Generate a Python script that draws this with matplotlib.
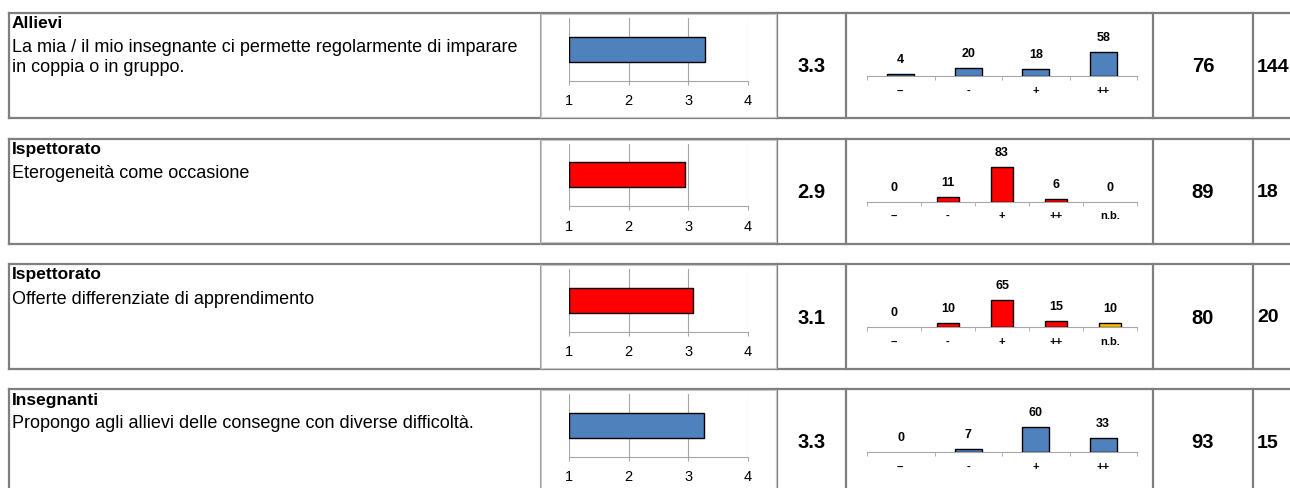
import matplotlib
matplotlib.use("Agg")
import matplotlib.pyplot as plt
from matplotlib.patches import Rectangle

plt.rcParams['font.family'] = ['Liberation Sans', 'DejaVu Sans']

# data
groups = ["Allievi", "Ispettorato", "Ispettorato", "Insegnanti"]
questions = [
    ["La mia / il mio insegnante ci permette regolarmente di imparare", "in coppia o in gruppo."],
    ["Eterogeneità come occasione"],
    ["Offerte differenziate di apprendimento"],
    ["Propongo agli allievi delle consegne con diverse difficoltà."],
]
means = [3.28, 2.94, 3.07, 3.27]
dist_labels = [
    ["--", "-", "+", "++"],
    ["--", "-", "+", "++", "n.b."],
    ["--", "-", "+", "++", "n.b."],
    ["--", "-", "+", "++"],
]
dist_values = [
    [4, 20, 18, 58],
    [0, 11, 83, 6, 0],
    [0, 10, 65, 15, 10],
    [0, 7, 60, 33],
]
n_values = [76, 89, 80, 93]
last_col = ["144", "18", "20", "15"]
row_colors = ["#4F81BD", "#FF0000", "#FF0000", "#4F81BD"]
nb_color = "#FFC000"

W, H = 1290, 488
fig = plt.figure(figsize=(W / 100, H / 100), dpi=100)
bg = fig.add_axes([0, 0, 1, 1])
bg.set_xlim(0, W)
bg.set_ylim(H, 0)
bg.axis("off")


def box(x0, y0, x1, y1):
    return [x0 / W, 1 - y1 / H, (x1 - x0) / W, (y1 - y0) / H]


row_tops = [13, 138.5, 264, 389]
row_h = 105
border = "#7f7f7f"

for r, t in enumerate(row_tops):
    b = t + row_h
    # cell borders
    bg.plot([9, 1340], [t, t], color=border, lw=1.6)
    bg.plot([9, 1340], [b, b], color=border, lw=1.6)
    bg.plot([9, 9], [t, b], color=border, lw=1.6)
    bg.plot([540, 540], [t, b], color="#a0a0a0", lw=0.8)
    for xv in [777, 846, 1153, 1253]:
        bg.plot([xv, xv], [t, b], color=border, lw=1.6)
    bg.add_patch(Rectangle((541, t + 1), 235, row_h - 2.5, facecolor="white",
                           edgecolor="#c8c8c8", lw=0.8, zorder=3))

    # text cell
    bg.text(12, t + 11, groups[r], fontsize=12.5, fontweight="bold", va="center")
    for k, line in enumerate(questions[r]):
        bg.text(12, t + 35 + k * 20, line, fontsize=13, va="center")

    # mean, n, last column
    bg.text(811.5, t + 54, f"{means[r]:.1f}", fontsize=14.5, fontweight="bold",
            ha="center", va="center")
    bg.text(1203, t + 54, str(n_values[r]), fontsize=14.5, fontweight="bold",
            ha="center", va="center")
    bg.text(1257, t + 54, last_col[r], fontsize=14, fontweight="bold",
            ha="left", va="center")

    # mean bar chart
    ax = fig.add_axes(box(569, t + 5, 748, t + 67.5))
    ax.set_zorder(5)
    ax.barh([0], [means[r] - 1], left=1, height=0.4, color=row_colors[r],
            edgecolor="black", lw=1.0, zorder=3)
    ax.set_xlim(1, 4)
    ax.set_ylim(-0.5, 0.5)
    ax.set_xticks([1, 2, 3, 4])
    ax.set_xticklabels(["1", "2", "3", "4"], fontsize=10.5)
    ax.set_yticks([])
    ax.grid(axis="x", color="#a6a6a6", lw=0.8)
    for s in ["top", "left", "right"]:
        ax.spines[s].set_visible(False)
    ax.spines["bottom"].set_color("#a6a6a6")
    ax.tick_params(axis="x", length=3, color="#a6a6a6", pad=7)
    ax.patch.set_alpha(0)

    # distribution chart
    vals = dist_values[r]
    labs = dist_labels[r]
    n = len(vals)
    cols = [nb_color if l == "n.b." else row_colors[r] for l in labs]
    lws = [0 if v == 0 else 1.0 for v in vals]
    dx = fig.add_axes(box(867, t + 21.5, 1137, t + 63))
    dx.set_zorder(5)
    xs = list(range(n))
    dx.bar(xs, vals, width=0.4, color=cols, edgecolor="black", linewidth=lws, zorder=3)
    for i, v in enumerate(vals):
        dx.annotate(str(v), (i, v), xytext=(0, 10), textcoords="offset points",
                    ha="center", va="center", fontsize=9, fontweight="bold")
    dx.set_xlim(-0.5, n - 0.5)
    dx.set_ylim(0, 100)
    dx.set_xticks(xs)
    dx.set_xticklabels(labs, fontsize=8, fontweight="bold")
    dx.set_xticks([i - 0.5 for i in range(n + 1)], minor=True)
    dx.tick_params(axis="x", which="major", length=0, pad=7)
    dx.tick_params(axis="x", which="minor", length=3, color="#a6a6a6")
    dx.set_yticks([])
    for s in ["top", "left", "right"]:
        dx.spines[s].set_visible(False)
    dx.spines["bottom"].set_color("#a6a6a6")
    dx.patch.set_alpha(0)

fig.savefig("out.png", dpi=100)
